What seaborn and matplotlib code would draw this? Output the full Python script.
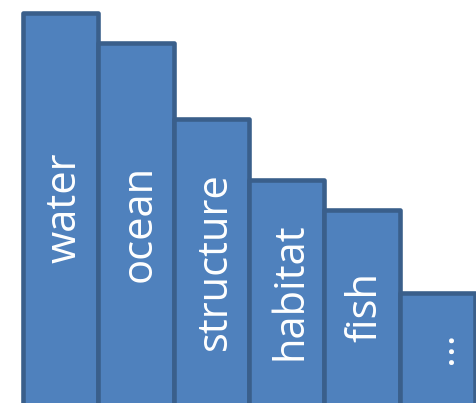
import matplotlib
matplotlib.use("Agg")
import matplotlib.pyplot as plt
import seaborn as sns
import pandas as pd

categories = ["water", "ocean", "structure", "habitat", "fish", "..."]
values = [396, 366, 290, 229, 199, 116]

df = pd.DataFrame({"word": categories, "value": values})

sns.set_theme(style="white")
fig = plt.figure(figsize=(4.77, 4.03), dpi=100)
ax = fig.add_axes([0, 0, 1, 1])
sns.barplot(data=df, x="word", y="value", ax=ax, color="#4f81bd", saturation=1,
            width=1.0, edgecolor="#3a5f8b", linewidth=3.3)
for p in ax.patches:
    p.set_joinstyle("round")

for i, (c, v) in enumerate(zip(categories, values)):
    ax.text(i + 0.05, (v + 6) / 2, c, rotation=90, ha="center", va="center", color="white",
            fontsize=30, family="Open Sans")

bw = 451 / 6
ax.set_xlim(-0.5 - 23 / bw, 5.5 + 2 / bw)
ax.set_ylim(6, 409)
ax.axis("off")
fig.savefig("out.png", dpi=100)
